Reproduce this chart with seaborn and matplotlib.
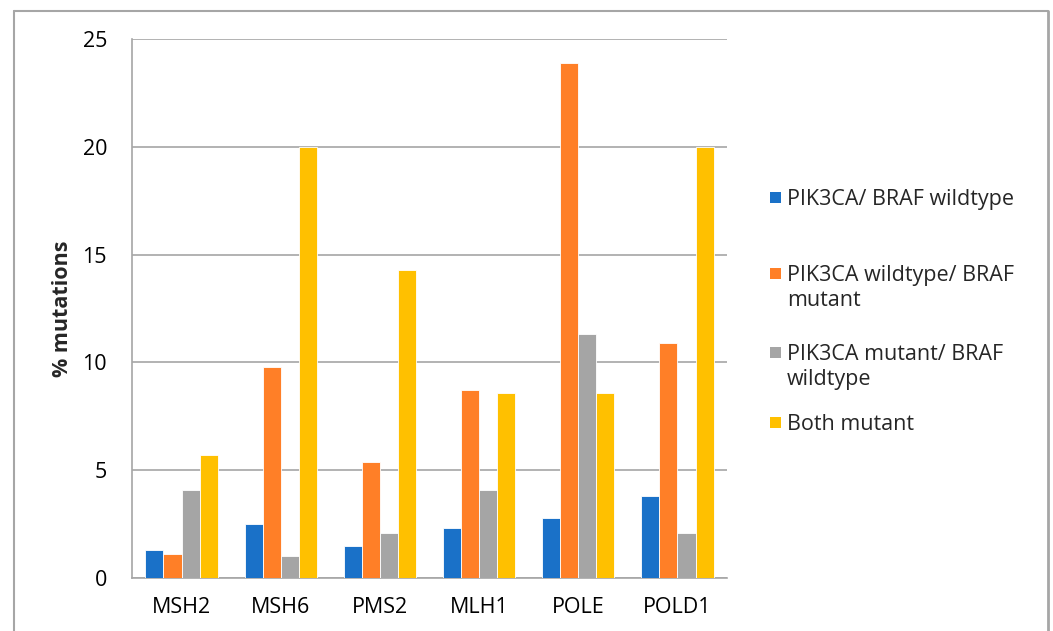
import matplotlib
matplotlib.use("Agg")
import matplotlib.pyplot as plt
from matplotlib.patches import Rectangle
from matplotlib.lines import Line2D
import seaborn as sns
import pandas as pd

# Mismatch-repair / polymerase genes and mutation rates per PIK3CA/BRAF group
genes = ["MSH2", "MSH6", "PMS2", "MLH1", "POLE", "POLD1"]
groups = [
    "PIK3CA/ BRAF wildtype",
    "PIK3CA wildtype/ BRAF mutant",
    "PIK3CA mutant/ BRAF wildtype",
    "Both mutant",
]
legend_labels = [
    "PIK3CA/ BRAF wildtype",
    "PIK3CA wildtype/ BRAF\nmutant",
    "PIK3CA mutant/ BRAF\nwildtype",
    "Both mutant",
]
both_wildtype = [1.3, 2.5, 1.5, 2.3, 2.8, 3.8]
braf_mutant = [1.1, 9.8, 5.4, 8.7, 23.9, 10.9]
pik3ca_mutant = [4.1, 1.0, 2.1, 4.1, 11.3, 2.1]
both_mutant = [5.7, 20.0, 14.3, 8.6, 8.6, 20.0]
y_ticks = [0, 5, 10, 15, 20, 25]

colors = ["#1A71C8", "#FF7F27", "#A5A5A5", "#FFC000"]
grey = "#A6A6A6"

df = pd.DataFrame({
    "gene": genes * 4,
    "group": [g for g in groups for _ in genes],
    "pct": both_wildtype + braf_mutant + pik3ca_mutant + both_mutant,
})

sns.set_style("white")
plt.rcParams["font.family"] = ["Open Sans", "DejaVu Sans"]
FS = 15.5

W, H = 1053, 631
fig = plt.figure(figsize=(W / 100, H / 100), dpi=100)


def fx(px):
    return px / W


def fy(py):
    return 1 - py / H


ax_left, ax_right, ax_top, ax_bottom = 132, 727, 39, 578
ax = fig.add_axes([fx(ax_left), fy(ax_bottom), fx(ax_right - ax_left),
                   (ax_bottom - ax_top) / H])

sns.barplot(data=df, x="gene", y="pct", hue="group", hue_order=groups,
            order=genes, palette=colors, saturation=1, width=0.73,
            edgecolor="white", linewidth=0.6, legend=False, ax=ax, zorder=3)

ax.set_xlim(-0.5, len(genes) - 0.5)
ax.set_ylim(0, 25)
ax.set_yticks(y_ticks)
ax.set_yticklabels([str(t) for t in y_ticks], fontsize=FS)
ax.yaxis.grid(True, color=grey, linewidth=1.2, zorder=0)
ax.set_axisbelow(True)

# category labels centred, tick marks on the category boundaries
ax.set_xticks(range(len(genes)))
ax.set_xticklabels(genes, fontsize=FS)
ax.set_xticks([i - 0.5 for i in range(len(genes) + 1)], minor=True)
ax.tick_params(axis="x", which="major", length=0, pad=14, colors="black")
ax.tick_params(axis="x", which="minor", length=6, width=1.2, color=grey,
               direction="out")
ax.tick_params(axis="y", which="major", length=6, width=1.2, color=grey,
               direction="out", pad=12, labelcolor="black")

ax.set_xlabel("")
ax.set_ylabel("% mutations", fontsize=FS, fontweight="bold", va="center")
ax.yaxis.set_label_coords((62 - ax_left) / (ax_right - ax_left), 0.5)

for side in ["top", "right"]:
    ax.spines[side].set_visible(False)
for side in ["left", "bottom"]:
    ax.spines[side].set_color(grey)
    ax.spines[side].set_linewidth(1.2)

# legend at the right, one square marker per group
entry_centres = [197, 273, 352, 422]
for label, color, yc in zip(legend_labels, colors, entry_centres):
    fig.patches.append(Rectangle((fx(770), fy(yc + 5.5)), fx(11), 11 / H,
                                 transform=fig.transFigure, facecolor=color,
                                 edgecolor="none"))
    fig.text(fx(787), fy(yc - 8), label, fontsize=FS, va="top", ha="left",
             linespacing=1.28)

# outer chart frame
frame_kw = dict(color=grey, linewidth=1.5, transform=fig.transFigure)
fig.lines.append(Line2D([fx(14), fx(14)], [fy(11), 0], **frame_kw))
fig.lines.append(Line2D([fx(14), fx(1048)], [fy(11), fy(11)], **frame_kw))
fig.lines.append(Line2D([fx(1048), fx(1048)], [fy(11), 0], linewidth=2,
                        color=grey, transform=fig.transFigure))

fig.savefig("out.png", dpi=100, facecolor="white")
